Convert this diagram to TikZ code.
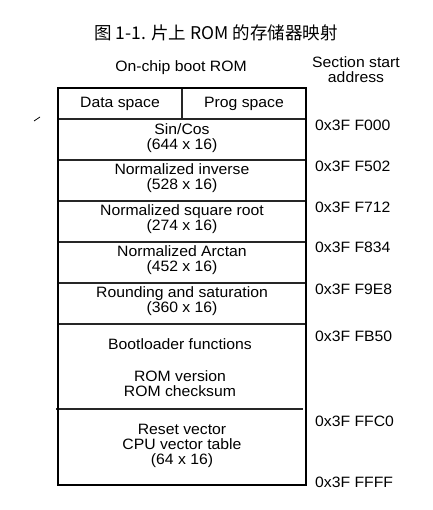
\documentclass[tikz,border=0pt]{standalone}
\usepackage{fontspec}
\setmainfont{Liberation Sans}[FakeStretch=1.05]
\newfontfamily\cjk{Noto Sans CJK SC}
\begin{document}
\begin{tikzpicture}[x=1pt,y=-1pt,
  lbl/.style={font=\fontsize{15}{15}\selectfont, align=center, inner sep=0pt},
  addr/.style={font=\fontsize{15}{15}\selectfont, anchor=west, inner sep=0pt},
  sep/.style={draw=black!85, line width=1.2pt},
  outer/.style={draw=black, line width=2.2pt}]
\useasboundingbox (0,0) rectangle (432,510);
\node[font=\cjk\fontsize{17.5}{19}\selectfont, inner sep=0pt] (title) at (216,33) {图 1-1. 片上 ROM 的存储器映射};
\node[lbl] (hdr) at (181,68) {On-chip boot ROM};
\node[lbl] (sec) at (356,70) {Section start\\address};
% rows
\coordinate (tl) at (58,88);
\coordinate (br) at (306,485);
\draw[sep] (58,119) -- (306,119);
\draw[sep] (182,88) -- (182,119);
\draw[sep] (58,160) -- (306,160);
\draw[sep] (58,201) -- (306,201);
\draw[sep] (58,242) -- (306,242);
\draw[sep] (58,283) -- (306,283);
\draw[sep] (58,324) -- (306,324);
\draw[sep] (56,409) -- (303,409);
\draw[outer] (tl) rectangle (br);
\draw[line width=0.8pt] (34,121) -- (40,117);
% labels
\node[lbl] (ds) at (120,104) {Data space};
\node[lbl] (ps) at (244,104) {Prog space};
\node[lbl] (r1) at (182,138) {Sin/Cos\\(644 x 16)};
\node[lbl] (r2) at (182,178) {Normalized inverse\\(528 x 16)};
\node[lbl] (r3) at (182,219) {Normalized square root\\(274 x 16)};
\node[lbl] (r4) at (182,260) {Normalized Arctan\\(452 x 16)};
\node[lbl] (r5) at (182,301) {Rounding and saturation\\(360 x 16)};
\node[lbl] (r6a) at (180,344) {Bootloader functions};
\node[lbl] (r6b) at (180,384) {ROM version\\ROM checksum};
\node[lbl] (r7) at (182,446) {Reset vector\\CPU vector table\\(64 x 16)};
% addresses
\node[addr] (a1) at (315,125) {0x3F F000};
\node[addr] (a2) at (315,166) {0x3F F502};
\node[addr] (a3) at (315,207) {0x3F F712};
\node[addr] (a4) at (315,247) {0x3F F834};
\node[addr] (a5) at (315,289) {0x3F F9E8};
\node[addr] (a6) at (315,336) {0x3F FB50};
\node[addr] (a7) at (315,421) {0x3F FFC0};
\node[addr] (a8) at (315,482) {0x3F FFFF};
\end{tikzpicture}
\end{document}
